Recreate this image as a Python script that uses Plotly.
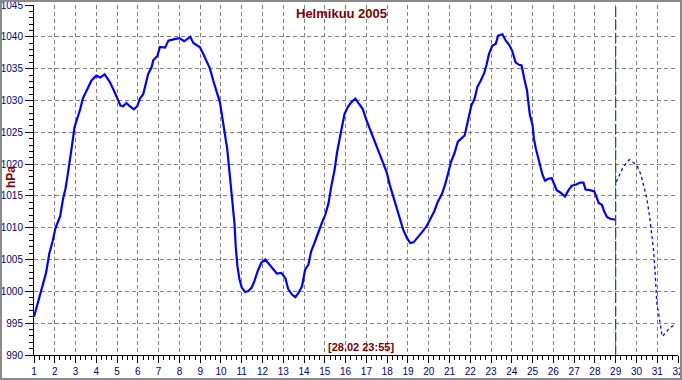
import plotly.graph_objects as go

# Observed pressure, February 2005 (day of month as decimal, hPa)
obs_day = [1.0, 1.18, 1.42, 1.58, 1.74, 1.90, 2.03, 2.26, 2.39, 2.52, 2.63, 2.71, 2.82, 2.95,
           3.11, 3.23, 3.35, 3.55, 3.76, 4.0, 4.19, 4.40, 4.65, 4.84, 5.0, 5.16, 5.29, 5.45,
           5.61, 5.81, 5.97, 6.10, 6.26, 6.39, 6.50, 6.66, 6.74, 6.94, 7.06, 7.31, 7.47, 7.71,
           8.0, 8.23, 8.35, 8.52, 8.68, 8.98, 9.15, 9.31, 9.47, 9.63, 9.79, 9.95, 10.06, 10.19,
           10.3, 10.4, 10.48, 10.56, 10.65, 10.71, 10.79, 10.89, 11.0, 11.16, 11.32, 11.48,
           11.61, 11.77, 11.94, 12.13, 12.32, 12.53, 12.69, 12.9, 13.1, 13.23, 13.42, 13.58,
           13.74, 13.9, 14.05, 14.21, 14.34, 14.5, 14.69, 14.85, 15.02, 15.18, 15.31, 15.47,
           15.58, 15.69, 15.82, 15.95, 16.11, 16.27, 16.47, 16.66, 16.82, 16.98, 17.16, 17.32,
           17.48, 17.65, 17.81, 17.97, 18.13, 18.29, 18.45, 18.61, 18.77, 18.95, 19.11, 19.27,
           19.47, 19.68, 19.89, 20.08, 20.27, 20.44, 20.65, 20.81, 20.97, 21.08, 21.24, 21.40,
           21.56, 21.73, 21.82, 21.93, 22.05, 22.21, 22.34, 22.50, 22.66, 22.79, 22.90, 23.06,
           23.23, 23.34, 23.55, 23.71, 23.87, 24.02, 24.18, 24.35, 24.47, 24.6, 24.73, 24.80,
           24.87, 25.0, 25.06, 25.16, 25.27, 25.39, 25.48, 25.6, 25.76, 25.92, 26.03, 26.16,
           26.35, 26.56, 26.73, 26.89, 27.1, 27.29, 27.45, 27.55, 27.77, 27.97, 28.1, 28.18,
           28.34, 28.45, 28.58, 28.74, 28.98]
obs_hpa = [996.0, 998.2, 1000.8, 1002.9, 1006.0, 1007.9, 1009.9, 1011.8, 1014.4, 1016.2, 1018.5,
           1020.6, 1022.7, 1025.8, 1027.4, 1028.7, 1030.3, 1031.8, 1033.1, 1033.9, 1033.6, 1034.1,
           1032.9, 1031.6, 1030.4, 1029.2, 1029.1, 1029.6, 1029.1, 1028.6, 1029.1, 1030.3, 1031.0,
           1032.9, 1034.2, 1035.2, 1036.3, 1037.0, 1038.4, 1038.3, 1039.4, 1039.6, 1039.8, 1039.3,
           1039.6, 1040.0, 1039.0, 1038.4, 1037.3, 1036.1, 1035.0, 1033.1, 1031.3, 1029.7, 1027.4,
           1024.8, 1022.4, 1019.1, 1016.5, 1013.9, 1010.7, 1007.1, 1004.0, 1001.9, 1000.6, 999.9,
           1000.05, 1000.6, 1001.6, 1003.2, 1004.5, 1005.0, 1004.2, 1003.4, 1002.8, 1002.9, 1002.1,
           1000.4, 999.5, 999.1, 999.8, 1000.8, 1003.4, 1004.2, 1006.3, 1007.6, 1009.4, 1010.7,
           1012.0, 1013.9, 1016.5, 1019.1, 1021.7, 1023.8, 1025.8, 1027.9, 1029.0, 1029.7, 1030.3,
           1029.4, 1028.7, 1027.1, 1025.6, 1024.5, 1023.0, 1021.7, 1020.4, 1018.8, 1016.7, 1014.9,
           1013.1, 1011.25, 1009.7, 1008.4, 1007.6, 1007.7, 1008.4, 1009.3, 1010.2, 1011.5, 1012.6,
           1014.1, 1015.4, 1017.0, 1018.8, 1020.4, 1021.7, 1023.5, 1024.0, 1024.5, 1025.8, 1027.7,
           1029.2, 1030.3, 1032.1, 1033.1, 1034.2, 1035.7, 1037.3, 1038.6, 1038.9, 1040.2, 1040.4,
           1039.4, 1038.75, 1037.8, 1036.0, 1035.6, 1035.5, 1033.4, 1031.6, 1029.6, 1027.7, 1026.1,
           1024.0, 1022.4, 1021.1, 1019.6, 1018.3, 1017.4, 1017.7, 1017.8, 1017.0, 1015.9, 1015.5,
           1014.9, 1015.9, 1016.6, 1016.8, 1017.1, 1017.1, 1016.0, 1015.9, 1015.7, 1014.6, 1013.9,
           1013.6, 1012.55, 1011.7, 1011.4, 1011.25]

# Forecast (dotted)
fc_day = [29.03, 29.15, 29.31, 29.47, 29.65, 29.87, 30.05, 30.21, 30.37, 30.5, 30.63, 30.74,
          30.82, 30.9, 30.98, 31.06, 31.15, 31.24, 31.39, 31.55, 31.84]
fc_hpa = [1017.2, 1018.1, 1019.2, 1020.0, 1020.7, 1020.2, 1019.6, 1018.4, 1016.5, 1014.6, 1011.8,
          1009.2, 1006.6, 1002.9, 998.2, 996.7, 994.6, 992.9, 993.4, 994.1, 994.8]

now_day = 29
title_text = "Helmikuu 2005"
stamp_text = "[28.02 23:55]"
y_label = "hPa"

W, H = 682, 380
ML, MR, MT, MB = 34, 4, 5, 25
PW, PH = W - ML - MR, H - MT - MB

fig = go.Figure()
fig.add_trace(go.Scatter(x=obs_day, y=obs_hpa, mode="lines",
                         line=dict(color="#0000FF", width=2.2), hoverinfo="skip"))
fig.add_trace(go.Scatter(x=fc_day, y=fc_hpa, mode="lines",
                         line=dict(color="#0000FF", width=1.3, dash="3px,3px"), hoverinfo="skip"))

fig.add_shape(type="line", x0=now_day, x1=now_day, y0=990, y1=1045, xref="x", yref="y",
              line=dict(color="#007000", width=1.2, dash="10px,3px"))

# outer frame
fig.add_shape(type="rect", xref="paper", yref="paper",
              x0=(1 - ML) / PW, x1=(W - 1 - ML) / PW,
              y0=-(H - 1 - MT - PH) / PH, y1=1 + (MT - 1) / PH,
              line=dict(color="#8a8a8a", width=2), layer="above")

tickfont = dict(family="Arial", size=10, color="#000080")
fig.update_xaxes(range=[1, 32], dtick=1, tick0=1, showgrid=True, gridcolor="#808080",
                 griddash="4px,3px", gridwidth=1, showline=True, linecolor="black",
                 ticks="outside", ticklen=7, tickcolor="black", tickfont=tickfont,
                 zeroline=False, ticklabeloverflow="allow", automargin=False,
                 minor=dict(dtick=0.25, tick0=1, ticks="outside", ticklen=4,
                            tickcolor="black", showgrid=False))
fig.update_yaxes(range=[990, 1045], dtick=5, tick0=990, showgrid=True, gridcolor="#808080",
                 griddash="4px,3px", gridwidth=1, showline=True, linecolor="black",
                 ticks="outside", ticklen=8, tickcolor="black", tickfont=tickfont,
                 zeroline=False, ticklabeloverflow="allow", automargin=False,
                 minor=dict(dtick=1, tick0=990, ticks="outside", ticklen=4,
                            tickcolor="black", showgrid=False))

fig.add_annotation(text="<b>%s</b>" % title_text, xref="paper", yref="paper",
                   x=(341 - ML) / PW, y=1 - (13 - MT) / PH, showarrow=False,
                   font=dict(family="Arial", size=13, color="#800000"),
                   xanchor="center", yanchor="middle")
fig.add_annotation(text="<b>%s</b>" % stamp_text, xref="paper", yref="paper",
                   x=(361 - ML) / PW, y=1 - (347 - MT) / PH, showarrow=False,
                   font=dict(family="Arial", size=11, color="#800000"),
                   xanchor="center", yanchor="middle")
fig.add_annotation(text="<b>%s</b>" % y_label, xref="paper", yref="paper",
                   x=(11 - ML) / PW, y=1 - (177 - MT) / PH, showarrow=False, textangle=-90,
                   font=dict(family="Arial", size=12, color="#800000"),
                   xanchor="center", yanchor="middle")

fig.update_layout(width=W, height=H, margin=dict(l=ML, r=MR, t=MT, b=MB, autoexpand=False),
                  paper_bgcolor="white", plot_bgcolor="white", showlegend=False)

fig.write_html("out.html")
